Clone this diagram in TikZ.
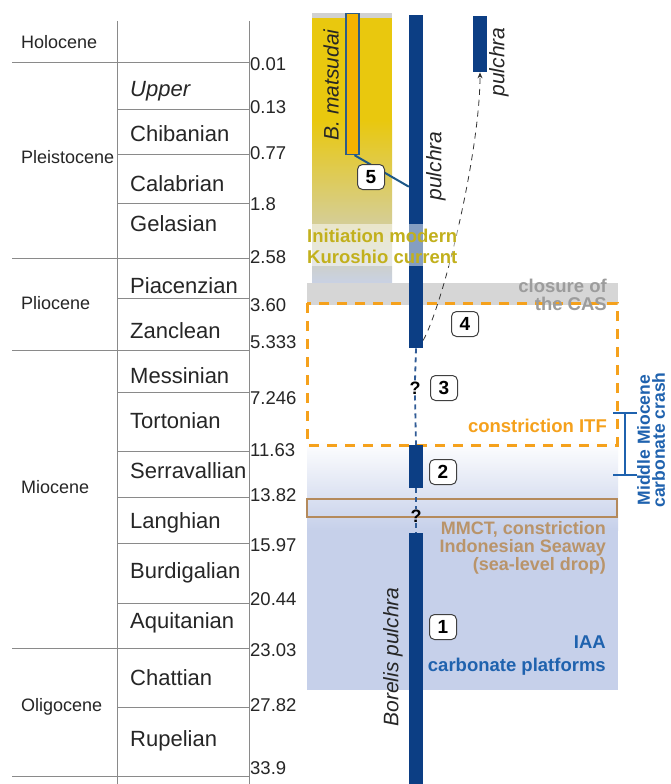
\documentclass[tikz,border=0pt]{standalone}
\usepackage{fontspec}
\setmainfont{Liberation Sans}
\usetikzlibrary{arrows.meta,calc}
\definecolor{navy}{HTML}{0C3E84}
\definecolor{ybandc}{HTML}{E9C80E}
\definecolor{khaki}{HTML}{CACA9A}
\definecolor{bandblue}{HTML}{C9D1E4}
\definecolor{cas}{HTML}{D6D6D6}
\definecolor{iaa}{HTML}{C6D0EA}
\definecolor{orangec}{HTML}{F5A11C}
\definecolor{brownc}{HTML}{B48A5C}
\definecolor{browntext}{HTML}{B9946A}
\definecolor{textblue}{HTML}{1F62AE}
\definecolor{kuro}{HTML}{C2B01C}
\definecolor{castext}{HTML}{9C9C9C}
\definecolor{matsfill}{HTML}{F5B300}
\definecolor{matsdraw}{HTML}{2E5C88}
\definecolor{linkc}{HTML}{1D5888}
\definecolor{gridc}{HTML}{8A8A8A}
\tikzset{
  gridline/.style={draw=gridc, line width=0.9pt},
  stage/.style={anchor=base west, inner sep=0pt, font=\fontsize{22}{26}\selectfont, text=black!85},
  epoch/.style={anchor=base west, inner sep=0pt, font=\fontsize{18}{22}\selectfont, text=black!85},
  agenum/.style={anchor=base west, inner sep=0pt, font=\fontsize{18.5}{22}\selectfont, text=black!85},
  bar/.style={rectangle, fill=navy, draw=none, minimum width=14pt, inner sep=0pt, anchor=north},
  species/.style={rotate=90, inner sep=0pt, font=\itshape\fontsize{21}{24}\selectfont, text=black!85},
  numbox/.style={rectangle, draw=black!75, fill=white, rounded corners=5pt, minimum width=27pt, minimum height=25pt, inner sep=0pt, line width=1pt, font=\bfseries\fontsize{19}{20}\selectfont},
  qmark/.style={inner sep=1pt, font=\bfseries\fontsize{18}{20}\selectfont},
  gapline/.style={draw=navy!85, line width=1.8pt, dash pattern=on 5pt off 4pt},
  evtext/.style={inner sep=0pt, font=\bfseries\fontsize{18.5}{20}\selectfont},
}
\begin{document}
\begin{tikzpicture}[x=1pt,y=-1pt]
\useasboundingbox (0,0) rectangle (671,784);
\fill[white] (0,0) rectangle (671,784);

% ---------- time scale table ----------
\draw[gridline] (117,21) -- (117,784);
\draw[gridline] (249,21) -- (249,784);
\foreach \yy in {62,258,350,648,776} \draw[gridline] (12,\yy) -- (249,\yy);
\foreach \yy in {109,154,203,298,392,451,497,543,603,707} \draw[gridline] (117,\yy) -- (249,\yy);

\node[epoch] (eHol) at (21,48.5) {Holocene};
\node[epoch] (ePle) at (21,163.5) {Pleistocene};
\node[epoch] (ePli) at (21,309.5) {Pliocene};
\node[epoch] (eMio) at (21,493.5) {Miocene};
\node[epoch] (eOli) at (21,711.5) {Oligocene};

\node[stage] (sUpp) at (130,96) {\itshape Upper};
\node[stage] (sChi) at (130,141) {Chibanian};
\node[stage] (sCal) at (130,191) {Calabrian};
\node[stage] (sGel) at (130,231.5) {Gelasian};
\node[stage] (sPia) at (130,293) {Piacenzian};
\node[stage] (sZan) at (130,338) {Zanclean};
\node[stage] (sMes) at (130,383) {Messinian};
\node[stage] (sTor) at (130,428) {Tortonian};
\node[stage] (sSer) at (130,478) {Serravallian};
\node[stage] (sLan) at (130,528) {Langhian};
\node[stage] (sBur) at (130,578) {Burdigalian};
\node[stage] (sAqu) at (130,628) {Aquitanian};
\node[stage] (sCha) at (130,685) {Chattian};
\node[stage] (sRup) at (130,746) {Rupelian};

\node[agenum] (n1) at (250,70.5) {0.01};
\node[agenum] (n2) at (250,113.5) {0.13};
\node[agenum] (n3) at (250,159.5) {0.77};
\node[agenum] (n4) at (250,210.5) {1.8};
\node[agenum] (n5) at (250,263.5) {2.58};
\node[agenum] (n6) at (250,311.5) {3.60};
\node[agenum] (n7) at (250,348) {5.333};
\node[agenum] (n8) at (250,404.5) {7.246};
\node[agenum] (n9) at (250,456.5) {11.63};
\node[agenum] (n10) at (250,501.5) {13.82};
\node[agenum] (n11) at (250,551.5) {15.97};
\node[agenum] (n12) at (250,605.5) {20.44};
\node[agenum] (n13) at (250,656.5) {23.03};
\node[agenum] (n14) at (250,711.5) {27.82};
\node[agenum] (n15) at (250,774.5) {33.9};

% ---------- background bands ----------
\fill[black!18] (312,13) rectangle (392,18);
\fill[ybandc] (312,18) rectangle (392,120);
\shade[top color=ybandc, middle color=khaki, bottom color=bandblue] (312,120) rectangle (392,283);
\fill[cas] (307,283) rectangle (618,305);
\shade[top color=white, bottom color=iaa] (307,440) rectangle (618,530);
\fill[iaa] (307,530) rectangle (618,690);

% event boxes
\draw[orangec, line width=3pt, dash pattern=on 10pt off 8pt] (307,303) rectangle (617,445);
\draw[brownc, line width=2.5pt] (307,499) rectangle (617,517);

% ---------- species ranges ----------
\node[bar, minimum height=333pt] (barTop) at (416,15) {};
\node[bar, minimum height=43pt] (barTwo) at (416,445) {};
\node[bar, minimum height=251pt] (barOne) at (416,533) {};
\node[bar, minimum height=56pt] (barRight) at (480,16) {};
\node[rectangle, fill=matsfill, draw=matsdraw, line width=1.2pt, minimum width=13pt, minimum height=141pt, inner sep=0pt, anchor=north] (mats) at (352.5,13) {};

\node[qmark] (q3) at (415,388) {?};
\node[qmark] (q1) at (416,516) {?};
\draw[gapline] (barTop.south) -- (q3.north);
\draw[gapline] (q3.south) -- (barTwo.north);
\draw[gapline] (barTwo.south) -- (q1.north);
\draw[gapline] (q1.south) -- (barOne.north);

% connector 5
\draw[linkc, line width=2pt] ([xshift=2pt]mats.south) -- ([yshift=-5pt]barTop.west);

% dispersal arrow
\draw[black!80, line width=0.8pt, dash pattern=on 6pt off 5pt, -{Stealth[length=6pt,width=5pt]}]
  ([yshift=8pt]barTop.south east) .. controls (445,300) and (480,150) .. (barRight.south);

% veil behind Kuroshio text
\fill[white, opacity=0.5] (306,224) rectangle (460,266);

% species labels
\node[species] (lbMats) at (331,85) {B.\ matsudai};
\node[species] (lbPul) at (436,166) {pulchra};
\node[species] (lbPulR) at (499,62) {pulchra};
\node[species] (lbBor) at (393,657) {Borelis pulchra};

% number boxes
\node[numbox] (k5) at (371,177) {5};
\node[numbox] (k4) at (465,324) {4};
\node[numbox] (k3) at (444,388) {3};
\node[numbox] (k2) at (443,472) {2};
\node[numbox] (k1) at (443,627) {1};

% event texts
\node[evtext, anchor=base west, text=kuro] (tK1) at (307,242) {Initiation modern};
\node[evtext, anchor=base west, text=kuro] (tK2) at (307,263.5) {Kuroshio current};
\node[evtext, anchor=base east, text=castext] (tC1) at (607,292) {closure of};
\node[evtext, anchor=base east, text=castext] (tC2) at (607,310) {the CAS};
\node[evtext, anchor=base east, text=orangec] (tI) at (607,432) {constriction ITF};
\node[evtext, anchor=base east, text=browntext, font=\bfseries\fontsize{18}{20}\selectfont] (tM1) at (606,534) {MMCT, constriction};
\node[evtext, anchor=base east, text=browntext, font=\bfseries\fontsize{18}{20}\selectfont] (tM2) at (606,552) {Indonesian Seaway};
\node[evtext, anchor=base east, text=browntext, font=\bfseries\fontsize{18}{20}\selectfont] (tM3) at (606,570) {(sea-level drop)};
\node[evtext, anchor=base east, text=textblue] (tA1) at (606,648) {IAA};
\node[evtext, anchor=base east, text=textblue] (tA2) at (606,671) {carbonate platforms};

% middle Miocene carbonate crash
\draw[textblue, line width=2.5pt] (613,413) -- (637,413) (625,413) -- (625,475) (613,475) -- (637,475);
\node[rotate=90, align=center, inner sep=0pt, text=textblue, font=\bfseries\fontsize{17.5}{15}\selectfont] (tMMCC) at (651,440) {Middle Miocene\\carbonate crash};
\end{tikzpicture}
\end{document}
